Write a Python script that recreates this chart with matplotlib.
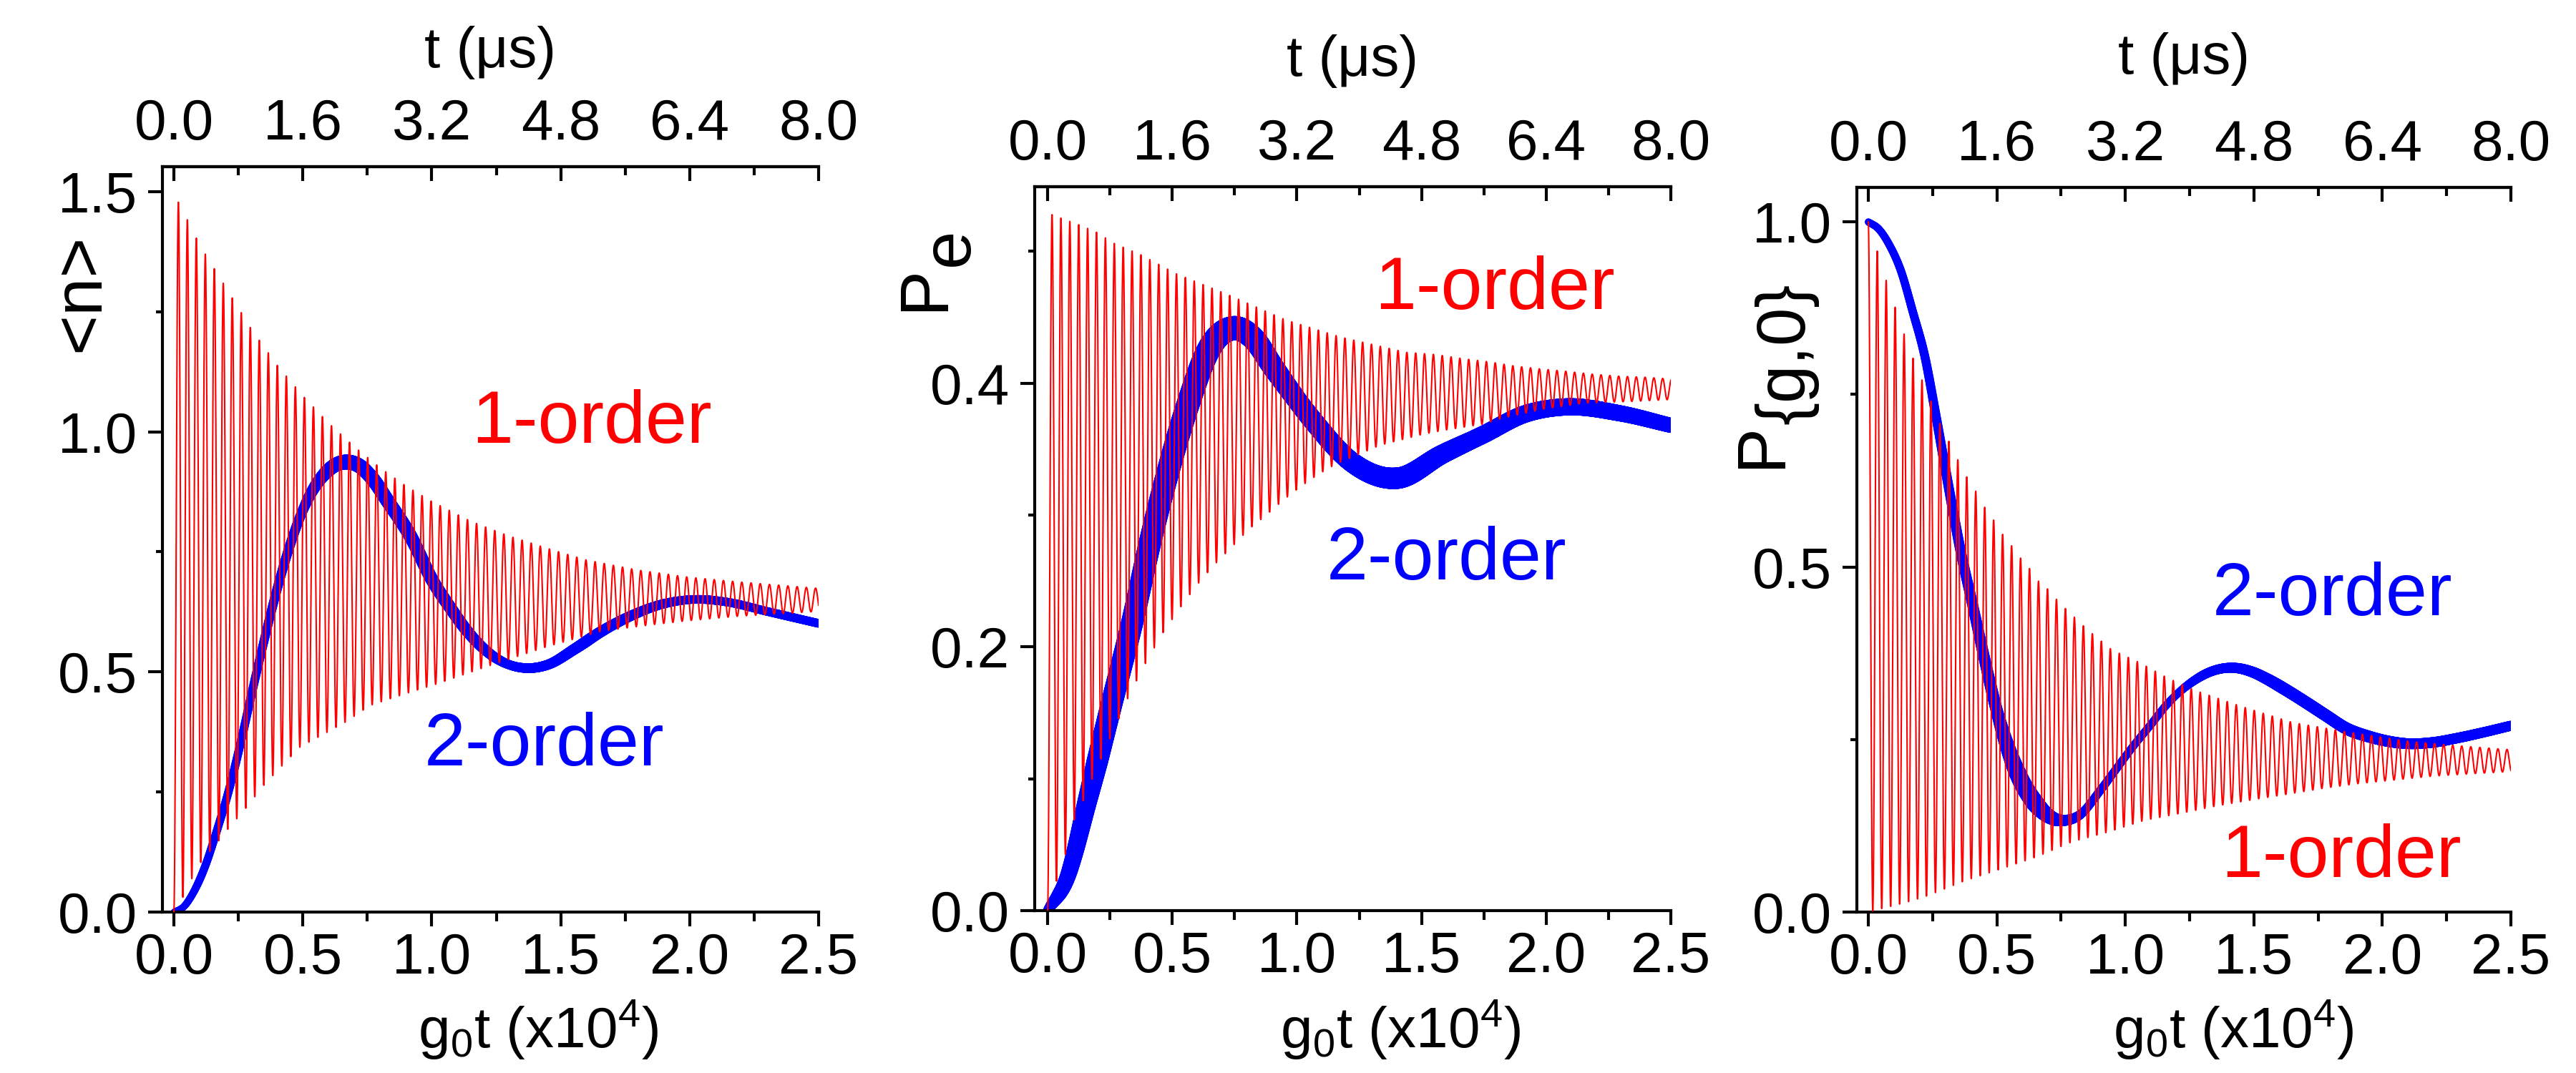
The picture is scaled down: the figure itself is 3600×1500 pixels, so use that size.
import numpy as np
import matplotlib
matplotlib.use("Agg")
import matplotlib.pyplot as plt
from matplotlib.collections import LineCollection
from matplotlib.ticker import MultipleLocator, FormatStrFormatter

plt.rcParams['font.family'] = ['Liberation Sans', 'DejaVu Sans']
plt.rcParams['mathtext.fontset'] = 'custom'
plt.rcParams['mathtext.rm'] = 'Liberation Sans'
plt.rcParams['mathtext.it'] = 'Liberation Sans:italic'
plt.rcParams['mathtext.default'] = 'regular'

# ---------------- data ----------------
X_TICKS = [0.0, 0.5, 1.0, 1.5, 2.0, 2.5]          # g0t (x10^4)
T_TICKS = [0.0, 1.6, 3.2, 4.8, 6.4, 8.0]          # t (us)
T_PER_G = 3.2                                     # t(us) per unit of g0t

# Panel 1: <n>
N1_UP_X = [0.019, 0.1, 0.2, 0.3, 0.4, 0.5, 0.6, 0.7, 0.8, 0.9, 1.0, 1.15, 1.3, 1.45, 1.6, 1.8, 2.0, 2.2, 2.5]
N1_UP_Y = [1.478, 1.389, 1.302, 1.214, 1.139, 1.075, 1.018, 0.969, 0.925, 0.887, 0.855, 0.814, 0.783, 0.757, 0.733, 0.712, 0.697, 0.687, 0.674]
N1_LO_X = [0.0, 0.035, 0.07, 0.105, 0.175, 0.21, 0.28, 0.35, 0.42, 0.49, 0.59, 0.67, 0.76, 0.9, 1.02, 1.24, 1.45, 1.66, 1.85, 2.0, 2.19, 2.5]
N1_LO_Y = [0.0, 0.031, 0.07, 0.104, 0.149, 0.173, 0.217, 0.265, 0.305, 0.344, 0.373, 0.397, 0.43, 0.455, 0.475, 0.516, 0.553, 0.585, 0.598, 0.607, 0.616, 0.626]
N1_PERIOD = [0.0348, 0.0358]
N2_X = [0.0, 0.04, 0.075, 0.121, 0.167, 0.214, 0.26, 0.306, 0.352, 0.399, 0.445, 0.491, 0.537, 0.584, 0.63, 0.667,
        0.722, 0.769, 0.83, 0.917, 1.003, 1.07, 1.13, 1.237, 1.3, 1.364, 1.45, 1.555, 1.66, 1.767, 1.9, 2.022, 2.15, 2.3, 2.5]
N2_Y = [0.0, 0.012, 0.04, 0.095, 0.17, 0.255, 0.355, 0.465, 0.57, 0.67, 0.755, 0.825, 0.877, 0.912, 0.932, 0.937,
        0.928, 0.903, 0.855, 0.783, 0.69, 0.635, 0.59, 0.533, 0.515, 0.508, 0.515, 0.548, 0.585, 0.6155, 0.642, 0.651, 0.645, 0.626, 0.601]

# Panel 2: Pe
P1_UP_X = [0.015, 0.127, 0.192, 0.267, 0.373, 0.516, 0.718, 0.955, 1.175, 1.438, 1.553, 1.662, 1.767, 1.871, 1.978, 2.081, 2.187, 2.293, 2.4, 2.506]
P1_UP_Y = [0.528, 0.52, 0.515, 0.506, 0.4975, 0.483, 0.4676, 0.448, 0.435, 0.4234, 0.4218, 0.4187, 0.4163, 0.4131, 0.4108, 0.409, 0.4068, 0.4053, 0.4045, 0.4031]
P1_LO_X = [0.0, 0.035, 0.072, 0.105, 0.142, 0.178, 0.319, 0.385, 0.457, 0.525, 0.597, 0.666, 0.737, 0.806, 0.877, 0.947,
           1.018, 1.087, 1.16, 1.26, 1.335, 1.418, 1.5, 1.582, 1.665, 1.748, 1.83, 1.995, 2.16, 2.325, 2.5]
P1_LO_Y = [0.0, 0.022, 0.043, 0.068, 0.083, 0.0995, 0.16, 0.185, 0.209, 0.228, 0.2465, 0.2617, 0.2754, 0.289, 0.3, 0.3116,
           0.322, 0.331, 0.339, 0.347, 0.353, 0.357, 0.361, 0.364, 0.3665, 0.369, 0.3737, 0.3806, 0.385, 0.386, 0.3876]
P1_PERIOD = [0.0357, 0.0353]
P2_X = [0.0, 0.077, 0.164, 0.253, 0.34, 0.417, 0.472, 0.56, 0.648, 0.746, 0.82, 0.911, 1.065, 1.219, 1.405, 1.582, 1.748, 1.913, 2.078, 2.3, 2.5]
P2_Y = [0.0, 0.024, 0.0865, 0.154, 0.219, 0.284, 0.325, 0.382, 0.426, 0.4417, 0.435, 0.4105, 0.3715, 0.3403, 0.328, 0.346, 0.361, 0.3765, 0.382, 0.377, 0.368]

# Panel 3: P{g,0}
G1_UP_X = [0.0, 0.037, 0.0715, 0.107, 0.141, 0.175, 0.211, 0.245, 0.28, 0.315, 0.35, 0.384, 0.42, 0.454, 0.489, 0.524, 0.559,
           0.594, 0.628, 0.663, 0.698, 0.733, 0.767, 0.85, 0.947, 1.058, 1.16, 1.272, 1.445, 1.651, 1.865, 2.113, 2.327, 2.508]
G1_UP_Y = [1.0, 0.955, 0.913, 0.8735, 0.8355, 0.8015, 0.769, 0.739, 0.7067, 0.681, 0.654, 0.63, 0.6086, 0.5857, 0.5673, 0.5464, 0.53,
           0.512, 0.4974, 0.479, 0.468, 0.4528, 0.4398, 0.41, 0.38, 0.361, 0.34, 0.321, 0.2988, 0.2746, 0.261, 0.247, 0.24, 0.235]
G1_LO_X = [0.0, 0.019, 0.092, 0.162, 0.233, 0.373, 0.514, 0.654, 0.794, 0.934, 1.075, 1.215, 1.355, 1.495, 1.635, 1.775, 1.915, 2.056, 2.196, 2.344, 2.517]
G1_LO_Y = [0.0, 0.002, 0.0086, 0.0155, 0.024, 0.045, 0.0622, 0.0798, 0.102, 0.116, 0.133, 0.143, 0.1537, 0.1627, 0.171, 0.1796, 0.1865, 0.1917, 0.197, 0.2003, 0.204]
G1_PERIOD = [0.0348, 0.0352]
G2_X = [0.0, 0.04, 0.08, 0.127, 0.173, 0.22, 0.266, 0.313, 0.359, 0.406, 0.452, 0.498, 0.545, 0.591, 0.6375, 0.684, 0.73, 0.768,
        0.82, 0.904, 0.96, 1.03, 1.1, 1.16, 1.27, 1.33, 1.42, 1.5, 1.55, 1.62, 1.71, 1.78, 1.86, 1.95, 2.03, 2.1, 2.2, 2.29, 2.4, 2.5]
G2_Y = [1.0, 0.99, 0.968, 0.929, 0.87, 0.805, 0.713, 0.615, 0.5235, 0.445, 0.367, 0.2945, 0.2356, 0.193, 0.1637, 0.144, 0.134, 0.133,
        0.14, 0.177, 0.205, 0.24, 0.272, 0.3, 0.336, 0.348, 0.354, 0.347, 0.338, 0.323, 0.302, 0.285, 0.266, 0.254, 0.247, 0.244, 0.246, 0.252, 0.261, 0.27]

ANNOT_1 = "1-order"
ANNOT_2 = "2-order"

# ---------------- styles / layout ----------------
W, H = 3600, 1500
RED = '#FF0000'
BLUE = '#0000FF'
TICK_FS = 19.2
LAB_FS = 19.2
YLAB_FS = 23
ANN_FS = 25

# blue line thickness profile (full-res px) along x, per panel
WID = [
    ([0.0, 0.1, 0.3, 0.5, 0.6, 0.67, 0.75, 0.9, 1.1, 1.3, 1.45, 1.6, 1.8, 2.0, 2.5],
     [9, 11, 12, 14, 19, 21, 20, 19, 17, 13, 14, 16, 14, 12, 12]),
    ([0.0, 0.05, 0.2, 0.5, 0.75, 1.0, 1.2, 1.4, 1.7, 2.1, 2.5],
     [13, 20, 30, 32, 34, 28, 28, 30, 25, 24, 21]),
    ([0.0, 0.2, 0.4, 0.5, 0.58, 0.65, 0.75, 0.85, 1.0, 1.2, 1.3, 1.42, 1.6, 1.9, 2.1, 2.5],
     [10, 12, 15, 17, 24, 25, 16, 12, 11, 11, 13, 14, 17, 17, 15, 14]),
]


def fast_trace(xu, yu, xl, yl, periods, start_peak, n=30000):
    x = np.linspace(0.0, 2.5, n)
    up = np.interp(x, xu, yu)
    lo = np.interp(x, xl, yl)
    per = np.interp(x, [0.0, 2.5], periods)
    phase = 2 * np.pi * np.concatenate([[0.0], np.cumsum(np.diff(x) / per[1:])])
    c = np.cos(phase) if start_peak else -np.cos(phase)
    return x, 0.5 * (up + lo) + 0.5 * (up - lo) * c


def smooth(xp, yp, n=1500):
    xp = np.asarray(xp, float)
    yp = np.asarray(yp, float)
    m = np.gradient(yp, xp)
    x = np.linspace(xp[0], xp[-1], n)
    i = np.clip(np.searchsorted(xp, x) - 1, 0, len(xp) - 2)
    h = xp[i + 1] - xp[i]
    t = (x - xp[i]) / h
    h00 = 2 * t**3 - 3 * t**2 + 1
    h10 = t**3 - 2 * t**2 + t
    h01 = -2 * t**3 + 3 * t**2
    h11 = t**3 - t**2
    y = h00 * yp[i] + h10 * h * m[i] + h01 * yp[i + 1] + h11 * h * m[i + 1]
    return x, y


panels = [
    dict(rect=(227, 233, 1144, 1275), xlim=(-0.0444, 2.5), ylim=(0, 1.552), yt=[0.0, 0.5, 1.0, 1.5], ym=0.25,
         red=(N1_UP_X, N1_UP_Y, N1_LO_X, N1_LO_Y, N1_PERIOD, False), blue=(N2_X, N2_Y),
         a1=(1.154, 0.977), a2=(0.971, 0.3057), top_base=94, xlab_x=752),
    dict(rect=(1446, 261, 2335, 1273), xlim=(-0.0517, 2.5), ylim=(0, 0.549), yt=[0.0, 0.2, 0.4], ym=0.1,
         red=(P1_UP_X, P1_UP_Y, P1_LO_X, P1_LO_Y, P1_PERIOD, False), blue=(P2_X, P2_Y),
         a1=(1.311, 0.456), a2=(1.119, 0.2514), top_base=106, xlab_x=1957),
    dict(rect=(2595, 262, 3509, 1275), xlim=(-0.0445, 2.5), ylim=(0, 1.05), yt=[0.0, 0.5, 1.0], ym=0.25,
         red=(G1_UP_X, G1_UP_Y, G1_LO_X, G1_LO_Y, G1_PERIOD, True), blue=(G2_X, G2_Y),
         a1=(1.372, 0.0508), a2=(1.339, 0.430), top_base=103, xlab_x=3121),
]

fig = plt.figure(figsize=(12, 5), dpi=300, facecolor='white')

for k, p in enumerate(panels):
    l, t, r, b = p['rect']
    ax = fig.add_axes([l / W, 1 - b / H, (r - l) / W, (b - t) / H])
    ax.set_xlim(*p['xlim'])
    ax.set_ylim(*p['ylim'])
    ax.spines['right'].set_visible(False)
    for s in ('left', 'bottom', 'top'):
        ax.spines[s].set_linewidth(1.0)
    ax.set_xticks(X_TICKS)
    ax.xaxis.set_minor_locator(MultipleLocator(0.25))
    ax.set_yticks(p['yt'])
    ax.yaxis.set_minor_locator(MultipleLocator(p['ym']))
    ax.xaxis.set_major_formatter(FormatStrFormatter('%.1f'))
    ax.yaxis.set_major_formatter(FormatStrFormatter('%.1f'))
    ax.tick_params(axis='x', which='major', direction='out', length=4.8, width=1.0,
                   labelsize=TICK_FS, pad=2, top=False)
    ax.tick_params(axis='x', which='minor', direction='out', length=3.1, width=1.0, top=False)
    ax.tick_params(axis='y', which='major', direction='out', length=4.8, width=1.0,
                   labelsize=TICK_FS, pad=3.5, right=False)
    ax.tick_params(axis='y', which='minor', direction='out', length=2.2, width=1.0, right=False)

    sec = ax.secondary_xaxis('top', functions=(lambda v: v * T_PER_G, lambda v: v / T_PER_G))
    sec.set_xticks(T_TICKS)
    sec.xaxis.set_minor_locator(MultipleLocator(0.8))
    sec.xaxis.set_major_formatter(FormatStrFormatter('%.1f'))
    sec.tick_params(which='major', direction='in', length=4.8, width=1.0, labelsize=TICK_FS, pad=5)
    sec.tick_params(which='minor', direction='in', length=2.8, width=1.0)
    sec.spines['top'].set_linewidth(1.0)

    # blue (2-order) with varying thickness
    bx, by = smooth(*p['blue'])
    pts = np.column_stack([bx, by])
    segs = np.stack([pts[:-1], pts[1:]], axis=1)
    mid = 0.5 * (bx[:-1] + bx[1:])
    lw = np.interp(mid, WID[k][0], WID[k][1]) * 72.0 / 300.0
    lc = LineCollection(segs, linewidths=lw, colors=BLUE, capstyle='round',
                        joinstyle='round', zorder=2)
    ax.add_collection(lc)

    # red (1-order) fast oscillation
    xu, yu, xl, yl, per, sp = p['red']
    rx, ry = fast_trace(xu, yu, xl, yl, per, sp)
    ax.plot(rx, ry, color=RED, lw=0.5, zorder=3)

    ax.text(*p['a1'], ANNOT_1, color=RED, fontsize=ANN_FS, ha='left', va='baseline', zorder=5)
    ax.text(*p['a2'], ANNOT_2, color=BLUE, fontsize=ANN_FS, ha='left', va='baseline', zorder=5)

    # axis titles
    fig.text(((l + r) / 2) / W, 1 - p['top_base'] / H, 't (\u03bcs)', fontsize=LAB_FS,
             ha='center', va='baseline')
    fig.text(p['xlab_x'] / W, 1 - 1465 / H, 'g$_0$t (x10$^4$)', fontsize=LAB_FS,
             ha='center', va='baseline')

# y labels (rotated; subscripts drawn full size and shifted, as in the original)
def rtext(px, py, s, ha='left'):
    fig.text(px / W, 1 - py / H, s, fontsize=YLAB_FS, rotation=90, rotation_mode='anchor',
             ha=ha, va='baseline')

rtext(138, 409, '<n>', ha='center')
rtext(1318.6, 435, 'P')
rtext(1353, 372, 'e')
rtext(2488, 655, 'P')
rtext(2521, 593, '{g,0}')

fig.savefig('out.png', dpi=300, facecolor='white')
